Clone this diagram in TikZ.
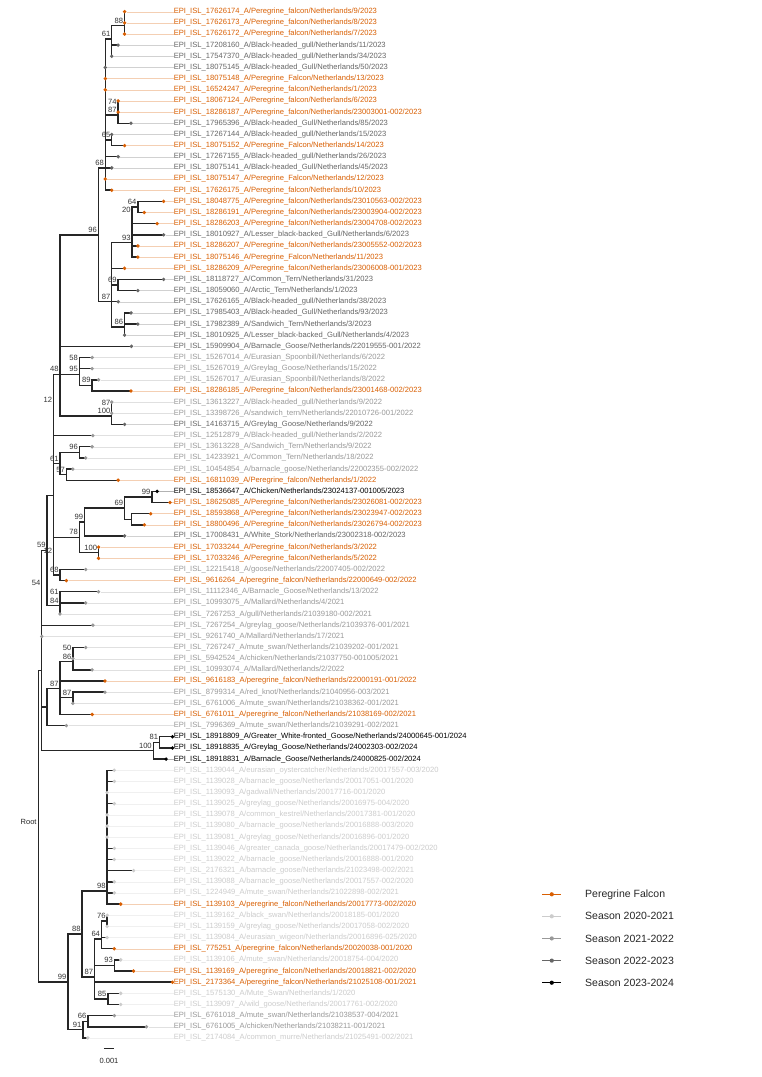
\documentclass[tikz,border=0pt]{standalone}
\usepackage{fontspec}
\setmainfont{Liberation Sans}
\pgfdeclarelayer{bg}
\pgfsetlayers{bg,main}
\definecolor{OR}{RGB}{217,95,2}
\definecolor{LT}{RGB}{204,204,204}
\definecolor{MD}{RGB}{153,153,153}
\definecolor{DK}{RGB}{102,102,102}
\definecolor{BK}{RGB}{0,0,0}
\definecolor{BR}{RGB}{38,38,38}
\newcommand\tipleaf[4]{%
  \node[tipdot, fill=#3] (l#1) at (#2,{11.7+11.155*#1}) {};%
  \node[tiplab, text=#3] (t#1) at (162,{11.7+11.155*#1}) {#4};%
  \draw[guide, draw=#3!30] (l#1) -- (t#1.west);%
}
\newcommand\inode[4]{\coordinate (#1) at (#2,#3); \node[nl] (b#1) at (#1) {#4};}
\newcommand\jnode[3]{\coordinate (#1) at (#2,#3);}
\newcommand\tbrs[2]{\foreach \ch in {#2}{\draw[branch] (#1) |- (\ch.center);}}
\begin{document}
\begin{tikzpicture}[x=1.0714pt,y=-1pt,
  tipdot/.style={circle, inner sep=0pt, minimum size=3.8pt, draw=none},
  tiplab/.style={anchor=west, inner sep=0pt, font=\fontsize{7.6pt}{9pt}\selectfont},
  guide/.style={line width=0.4pt},
  branch/.style={line width=1.4pt, draw=BR},
  nl/.style={anchor=south east, inner sep=0pt, xshift=-1.3pt, yshift=2.2pt, font=\fontsize{7.6pt}{9pt}\selectfont, text=black!80},
  legt/.style={anchor=west, inner sep=0pt, font=\fontsize{10.5pt}{12pt}\selectfont, text=black!85},
  keyline/.style={line width=0.5pt}
]
\useasboundingbox (0,0) rectangle (711.2,1077);
\begin{pgfonlayer}{bg}
\fill[white] (0,0) rectangle (711.2,1077);
\end{pgfonlayer}

% ---------- tips ----------
\tipleaf{0}{116.3}{OR}{EPI\_ISL\_17626174\_A/Peregrine\_falcon/Netherlands/9/2023}
\tipleaf{1}{116.3}{OR}{EPI\_ISL\_17626173\_A/Peregrine\_falcon/Netherlands/8/2023}
\tipleaf{2}{116.3}{OR}{EPI\_ISL\_17626172\_A/Peregrine\_falcon/Netherlands/7/2023}
\tipleaf{3}{110.3}{DK}{EPI\_ISL\_17208160\_A/Black-headed\_gull/Netherlands/11/2023}
\tipleaf{4}{104.3}{DK}{EPI\_ISL\_17547370\_A/Black-headed\_gull/Netherlands/34/2023}
\tipleaf{5}{98.3}{DK}{EPI\_ISL\_18075145\_A/Black-headed\_Gull/Netherlands/50/2023}
\tipleaf{6}{98.3}{OR}{EPI\_ISL\_18075148\_A/Peregrine\_Falcon/Netherlands/13/2023}
\tipleaf{7}{98.3}{OR}{EPI\_ISL\_16524247\_A/Peregrine\_falcon/Netherlands/1/2023}
\tipleaf{8}{110.3}{OR}{EPI\_ISL\_18067124\_A/Peregrine\_falcon/Netherlands/6/2023}
\tipleaf{9}{110.3}{OR}{EPI\_ISL\_18286187\_A/Peregrine\_falcon/Netherlands/23003001-002/2023}
\tipleaf{10}{122.3}{DK}{EPI\_ISL\_17965396\_A/Black-headed\_Gull/Netherlands/85/2023}
\tipleaf{11}{104.3}{DK}{EPI\_ISL\_17267144\_A/Black-headed\_gull/Netherlands/15/2023}
\tipleaf{12}{116.3}{OR}{EPI\_ISL\_18075152\_A/Peregrine\_Falcon/Netherlands/14/2023}
\tipleaf{13}{110.3}{DK}{EPI\_ISL\_17267155\_A/Black-headed\_gull/Netherlands/26/2023}
\tipleaf{14}{104.3}{DK}{EPI\_ISL\_18075141\_A/Black-headed\_Gull/Netherlands/45/2023}
\tipleaf{15}{98.3}{OR}{EPI\_ISL\_18075147\_A/Peregrine\_Falcon/Netherlands/12/2023}
\tipleaf{16}{104.3}{OR}{EPI\_ISL\_17626175\_A/Peregrine\_falcon/Netherlands/10/2023}
\tipleaf{17}{152.7}{OR}{EPI\_ISL\_18048775\_A/Peregrine\_falcon/Netherlands/23010563-002/2023}
\tipleaf{18}{134.7}{OR}{EPI\_ISL\_18286191\_A/Peregrine\_falcon/Netherlands/23003904-002/2023}
\tipleaf{19}{146.7}{OR}{EPI\_ISL\_18286203\_A/Peregrine\_falcon/Netherlands/23004708-002/2023}
\tipleaf{20}{152.7}{DK}{EPI\_ISL\_18010927\_A/Lesser\_black-backed\_Gull/Netherlands/6/2023}
\tipleaf{21}{128.7}{OR}{EPI\_ISL\_18286207\_A/Peregrine\_falcon/Netherlands/23005552-002/2023}
\tipleaf{22}{128.7}{OR}{EPI\_ISL\_18075146\_A/Peregrine\_Falcon/Netherlands/11/2023}
\tipleaf{23}{116.3}{OR}{EPI\_ISL\_18286209\_A/Peregrine\_falcon/Netherlands/23006008-001/2023}
\tipleaf{24}{152.7}{DK}{EPI\_ISL\_18118727\_A/Common\_Tern/Netherlands/31/2023}
\tipleaf{25}{128.7}{DK}{EPI\_ISL\_18059060\_A/Arctic\_Tern/Netherlands/1/2023}
\tipleaf{26}{110.3}{DK}{EPI\_ISL\_17626165\_A/Black-headed\_gull/Netherlands/38/2023}
\tipleaf{27}{122.3}{DK}{EPI\_ISL\_17985403\_A/Black-headed\_Gull/Netherlands/93/2023}
\tipleaf{28}{128.7}{DK}{EPI\_ISL\_17982389\_A/Sandwich\_Tern/Netherlands/3/2023}
\tipleaf{29}{116.3}{DK}{EPI\_ISL\_18010925\_A/Lesser\_black-backed\_Gull/Netherlands/4/2023}
\tipleaf{30}{122.7}{DK}{EPI\_ISL\_15909904\_A/Barnacle\_Goose/Netherlands/22019555-001/2022}
\tipleaf{31}{86}{MD}{EPI\_ISL\_15267014\_A/Eurasian\_Spoonbill/Netherlands/6/2022}
\tipleaf{32}{86}{MD}{EPI\_ISL\_15267019\_A/Greylag\_Goose/Netherlands/15/2022}
\tipleaf{33}{92}{MD}{EPI\_ISL\_15267017\_A/Eurasian\_Spoonbill/Netherlands/8/2022}
\tipleaf{34}{122.3}{OR}{EPI\_ISL\_18286185\_A/Peregrine\_falcon/Netherlands/23001468-002/2023}
\tipleaf{35}{104.3}{MD}{EPI\_ISL\_13613227\_A/Black-headed\_gull/Netherlands/9/2022}
\tipleaf{36}{104.3}{MD}{EPI\_ISL\_13398726\_A/sandwich\_tern/Netherlands/22010726-001/2022}
\tipleaf{37}{116.3}{DK}{EPI\_ISL\_14163715\_A/Greylag\_Goose/Netherlands/9/2022}
\tipleaf{38}{86.7}{MD}{EPI\_ISL\_12512879\_A/Black-headed\_gull/Netherlands/2/2022}
\tipleaf{39}{86}{MD}{EPI\_ISL\_13613228\_A/Sandwich\_Tern/Netherlands/9/2022}
\tipleaf{40}{80}{MD}{EPI\_ISL\_14233921\_A/Common\_Tern/Netherlands/18/2022}
\tipleaf{41}{68}{MD}{EPI\_ISL\_10454854\_A/barnacle\_goose/Netherlands/22002355-002/2022}
\tipleaf{42}{110.3}{OR}{EPI\_ISL\_16811039\_A/Peregrine\_falcon/Netherlands/1/2022}
\tipleaf{43}{146.7}{BK}{EPI\_ISL\_18536647\_A/Chicken/Netherlands/23024137-001005/2023}
\tipleaf{44}{158.7}{OR}{EPI\_ISL\_18625085\_A/Peregrine\_falcon/Netherlands/23026081-002/2023}
\tipleaf{45}{140.7}{OR}{EPI\_ISL\_18593868\_A/Peregrine\_falcon/Netherlands/23023947-002/2023}
\tipleaf{46}{134.7}{OR}{EPI\_ISL\_18800496\_A/Peregrine\_falcon/Netherlands/23026794-002/2023}
\tipleaf{47}{116.3}{DK}{EPI\_ISL\_17008431\_A/White\_Stork/Netherlands/23002318-002/2023}
\tipleaf{48}{92}{OR}{EPI\_ISL\_17033244\_A/Peregrine\_falcon/Netherlands/3/2022}
\tipleaf{49}{92}{OR}{EPI\_ISL\_17033246\_A/Peregrine\_falcon/Netherlands/5/2022}
\tipleaf{50}{80}{MD}{EPI\_ISL\_12215418\_A/goose/Netherlands/22007405-002/2022}
\tipleaf{51}{62}{OR}{EPI\_ISL\_9616264\_A/peregrine\_falcon/Netherlands/22000649-002/2022}
\tipleaf{52}{92}{MD}{EPI\_ISL\_11112346\_A/Barnacle\_Goose/Netherlands/13/2022}
\tipleaf{53}{80}{MD}{EPI\_ISL\_10993075\_A/Mallard/Netherlands/4/2021}
\tipleaf{54}{56}{MD}{EPI\_ISL\_7267253\_A/gull/Netherlands/21039180-002/2021}
\tipleaf{55}{86.7}{MD}{EPI\_ISL\_7267254\_A/greylag\_goose/Netherlands/21039376-001/2021}
\tipleaf{56}{39}{MD}{EPI\_ISL\_9261740\_A/Mallard/Netherlands/17/2021}
\tipleaf{57}{80}{MD}{EPI\_ISL\_7267247\_A/mute\_swan/Netherlands/21039202-001/2021}
\tipleaf{58}{68}{MD}{EPI\_ISL\_5942524\_A/chicken/Netherlands/21037750-001005/2021}
\tipleaf{59}{86}{MD}{EPI\_ISL\_10993074\_A/Mallard/Netherlands/2/2022}
\tipleaf{60}{98}{OR}{EPI\_ISL\_9616183\_A/peregrine\_falcon/Netherlands/22000191-001/2022}
\tipleaf{61}{98}{MD}{EPI\_ISL\_8799314\_A/red\_knot/Netherlands/21040956-003/2021}
\tipleaf{62}{68}{MD}{EPI\_ISL\_6761006\_A/mute\_swan/Netherlands/21038362-001/2021}
\tipleaf{63}{86}{OR}{EPI\_ISL\_6761011\_A/peregrine\_falcon/Netherlands/21038169-002/2021}
\tipleaf{64}{62}{MD}{EPI\_ISL\_7996369\_A/mute\_swan/Netherlands/21039291-002/2021}
\tipleaf{65}{161}{BK}{EPI\_ISL\_18918809\_A/Greater\_White-fronted\_Goose/Netherlands/24000645-001/2024}
\tipleaf{66}{161}{BK}{EPI\_ISL\_18918835\_A/Greylag\_Goose/Netherlands/24002303-002/2024}
\tipleaf{67}{155}{BK}{EPI\_ISL\_18918831\_A/Barnacle\_Goose/Netherlands/24000825-002/2024}
\tipleaf{68}{106.7}{LT}{EPI\_ISL\_1139044\_A/eurasian\_oystercatcher/Netherlands/20017557-003/2020}
\tipleaf{69}{106.7}{LT}{EPI\_ISL\_1139028\_A/barnacle\_goose/Netherlands/20017051-001/2020}
\tipleaf{70}{100}{LT}{EPI\_ISL\_1139093\_A/gadwall/Netherlands/20017716-001/2020}
\tipleaf{71}{106.7}{LT}{EPI\_ISL\_1139025\_A/greylag\_goose/Netherlands/20016975-004/2020}
\tipleaf{72}{100}{LT}{EPI\_ISL\_1139078\_A/common\_kestrel/Netherlands/20017381-001/2020}
\tipleaf{73}{100}{LT}{EPI\_ISL\_1139080\_A/barnacle\_goose/Netherlands/20016888-003/2020}
\tipleaf{74}{100}{LT}{EPI\_ISL\_1139081\_A/greylag\_goose/Netherlands/20016896-001/2020}
\tipleaf{75}{106.7}{LT}{EPI\_ISL\_1139046\_A/greater\_canada\_goose/Netherlands/20017479-002/2020}
\tipleaf{76}{106.7}{LT}{EPI\_ISL\_1139022\_A/barnacle\_goose/Netherlands/20016888-001/2020}
\tipleaf{77}{124.7}{LT}{EPI\_ISL\_2176321\_A/barnacle\_goose/Netherlands/21023498-002/2021}
\tipleaf{78}{106.7}{LT}{EPI\_ISL\_1139088\_A/barnacle\_goose/Netherlands/20017557-002/2020}
\tipleaf{79}{106.7}{LT}{EPI\_ISL\_1224949\_A/mute\_swan/Netherlands/21022898-002/2021}
\tipleaf{80}{112.7}{OR}{EPI\_ISL\_1139103\_A/peregrine\_falcon/Netherlands/20017773-002/2020}
\tipleaf{81}{100}{LT}{EPI\_ISL\_1139162\_A/black\_swan/Netherlands/20018185-001/2020}
\tipleaf{82}{100}{LT}{EPI\_ISL\_1139159\_A/greylag\_goose/Netherlands/20017058-002/2020}
\tipleaf{83}{100}{LT}{EPI\_ISL\_1139084\_A/eurasian\_wigeon/Netherlands/20016896-025/2020}
\tipleaf{84}{106.7}{OR}{EPI\_ISL\_775251\_A/peregrine\_falcon/Netherlands/20020038-001/2020}
\tipleaf{85}{112.7}{LT}{EPI\_ISL\_1139106\_A/mute\_swan/Netherlands/20018754-004/2020}
\tipleaf{86}{124.7}{OR}{EPI\_ISL\_1139169\_A/peregrine\_falcon/Netherlands/20018821-002/2020}
\tipleaf{87}{161}{OR}{EPI\_ISL\_2173364\_A/peregrine\_falcon/Netherlands/21025108-001/2021}
\tipleaf{88}{112.7}{LT}{EPI\_ISL\_1575130\_A/Mute\_Swan/Netherlands/1/2020}
\tipleaf{89}{112.7}{LT}{EPI\_ISL\_1139097\_A/wild\_goose/Netherlands/20017761-002/2020}
\tipleaf{90}{106.7}{MD}{EPI\_ISL\_6761018\_A/mute\_swan/Netherlands/21038537-004/2021}
\tipleaf{91}{136.7}{MD}{EPI\_ISL\_6761005\_A/chicken/Netherlands/21038211-001/2021}
\tipleaf{92}{82}{LT}{EPI\_ISL\_2174084\_A/common\_murre/Netherlands/21025491-002/2021}

% ---------- internal nodes ----------
\jnode{n012a}{116.3}{17.28}
\inode{n012}{116.3}{25.64}{88}
\inode{nA}{104.3}{39}{61}
\inode{n89}{110.3}{106.52}{74}
\inode{n8910}{110.3}{114.88}{87}
\inode{nC}{104.3}{139.98}{65}
\inode{nB}{98.3}{168}{68}
\inode{nE}{91.7}{234.85}{96}
\inode{n1718}{128.7}{206.91}{64}
\inode{nG}{123.3}{215.28}{20}
\inode{nF}{123.3}{242.7}{93}
\inode{nI}{110.3}{285.0}{69}
\jnode{nJa}{116.3}{318.46}
\inode{nJ}{116.3}{326.83}{86}
\inode{nH}{104.3}{301.7}{87}
\jnode{nK}{56}{290.6}
\inode{nM58}{74}{363.08}{58}
\inode{nN89}{86}{385.39}{89}
\inode{nM}{74}{374.24}{95}
\jnode{nK2}{56}{332.42}
\inode{nL87}{104.3}{407.7}{87}
\inode{nL}{104.3}{416.07}{100}
\inode{nY}{56}{374.25}{48}
\inode{nZ}{50}{404.92}{12}
\inode{n3940}{74}{452.32}{96}
\inode{n4142}{62}{474.63}{57}
\inode{n61a}{56}{463.48}{61}
\jnode{nZ2}{50}{434.2}
\inode{n4344}{141.7}{496.94}{99}
\jnode{n4546}{122.7}{519.25}
\inode{n69}{116.3}{508.1}{69}
\inode{n99a}{79}{522.04}{99}
\inode{n4849}{92}{552.72}{100}
\inode{n78}{74}{537.38}{78}
\inode{n5051}{56}{575.03}{68}
\inode{nR}{50}{556.2}{12}
\jnode{nS}{50}{495.2}
\inode{nV61}{56}{597.34}{61}
\inode{nV84}{56}{605.7}{84}
\inode{nX}{44}{550.45}{59}
\inode{nW54}{39}{587.84}{54}
\jnode{nW}{39}{612.11}
\inode{n5758}{68}{653.11}{50}
\inode{n5759}{68}{661.48}{86}
\jnode{nAA1}{56}{671.24}
\inode{n6162}{68}{697.73}{87}
\jnode{nAA2}{56}{706.1}
\inode{nAA}{56}{688.67}{87}
\jnode{nAB}{44}{707.15}
\inode{n6566}{149}{742.35}{81}
\inode{n100}{143}{750.72}{100}
\jnode{nT2}{39}{728.93}
\jnode{nT}{39}{670.52}
\inode{nBB}{100}{891}{98}
\inode{n8182}{100}{920.83}{76}
\jnode{nCC}{94.7}{929.2}
\inode{n64}{94.7}{938.96}{64}
\inode{n8586}{106.7}{965.45}{93}
\inode{n8889}{100.7}{998.92}{85}
\inode{n87}{88.3}{977}{87}
\inode{n88}{76.7}{934}{88}
\inode{n9091}{82}{1021.23}{66}
\inode{n91}{77.3}{1029.6}{91}
\inode{n99}{63.3}{981.8}{99}
\coordinate (root) at (36,826.16);
\node[anchor=south east, inner sep=0pt, xshift=-1.8pt, yshift=1.8pt, font=\fontsize{7.5pt}{9pt}\selectfont, text=black!85] (rootlab) at (root) {Root};

% ---------- branches ----------
\begin{pgfonlayer}{bg}
\tbrs{n012a}{l0,l1}
\tbrs{n012}{n012a,l2}
\tbrs{nA}{n012,l3,l4}
\tbrs{nB}{nA,l5,l6,l7,n8910,nC,l13,l14,l15,l16}
\tbrs{n89}{l8,l9}
\tbrs{n8910}{n89,l10}
\tbrs{nC}{l11,l12}
\tbrs{nE}{nB,nH}
\tbrs{n1718}{l17,l18}
\tbrs{nG}{n1718,l19}
\tbrs{nF}{nG,l20,l21,l22}
\tbrs{nI}{l24,l25}
\tbrs{nJa}{l27,l28}
\tbrs{nJ}{nJa,l29}
\tbrs{nH}{nF,l23,nI,l26,nJ}
\tbrs{nK}{nE,l30}
\tbrs{nM58}{l31,l32}
\tbrs{nN89}{l33,l34}
\tbrs{nM}{nM58,nN89}
\tbrs{nK2}{nK,nM}
\tbrs{nL87}{l35,l36}
\tbrs{nL}{nL87,l37}
\tbrs{nY}{nK2,nL}
\tbrs{nZ}{nY,l38}
\tbrs{n3940}{l39,l40}
\tbrs{n4142}{l41,l42}
\tbrs{n61a}{n3940,n4142}
\tbrs{nZ2}{nZ,n61a}
\tbrs{n4344}{l43,l44}
\tbrs{n4546}{l45,l46}
\tbrs{n69}{n4344,n4546}
\tbrs{n99a}{n69,l47}
\tbrs{n4849}{l48,l49}
\tbrs{n78}{n99a,n4849}
\tbrs{n5051}{l50,l51}
\tbrs{nR}{n78,n5051}
\tbrs{nS}{nZ2,nR}
\tbrs{nV61}{l52,l53}
\tbrs{nV84}{nV61,l54}
\tbrs{nX}{nS,nV84}
\tbrs{nW54}{nX,l55}
\tbrs{nW}{nW54,l56}
\tbrs{n5758}{l57,l58}
\tbrs{n5759}{n5758,l59}
\tbrs{nAA1}{n5759,l60}
\tbrs{n6162}{l61,l62}
\tbrs{nAA2}{n6162,l63}
\tbrs{nAA}{nAA1,nAA2}
\tbrs{nAB}{nAA,l64}
\tbrs{n6566}{l65,l66}
\tbrs{n100}{n6566,l67}
\tbrs{nT2}{nAB,n100}
\tbrs{nT}{nW,nT2}
\tbrs{nBB}{l68,l69,l70,l71,l72,l73,l74,l75,l76,l77,l78,l79,l80}
\tbrs{n8182}{l81,l82}
\tbrs{nCC}{n8182,l83}
\tbrs{n64}{nCC,l84}
\tbrs{n8586}{l85,l86}
\tbrs{n8889}{l88,l89}
\tbrs{n87}{n64,n8586,l87,n8889}
\tbrs{n88}{nBB,n87}
\tbrs{n9091}{l90,l91}
\tbrs{n91}{n9091,l92}
\tbrs{n99}{n88,n91}
\tbrs{root}{nT,n99}
\end{pgfonlayer}

% ---------- legend ----------
\coordinate (k0a) at (506,894.3); \coordinate (k0b) at (524,894.3);
\draw[keyline, draw=OR] (k0a) -- (k0b);
\node[tipdot, fill=OR, minimum size=4.2pt] (k0) at (515,894.3) {};
\node[legt] (g0) at (546,894.3) {Peregrine Falcon};
\coordinate (k1a) at (506,916.3); \coordinate (k1b) at (524,916.3);
\draw[keyline, draw=LT] (k1a) -- (k1b);
\node[tipdot, fill=LT, minimum size=4.2pt] (k1) at (515,916.3) {};
\node[legt] (g1) at (546,916.3) {Season 2020-2021};
\coordinate (k2a) at (506,938.4); \coordinate (k2b) at (524,938.4);
\draw[keyline, draw=MD] (k2a) -- (k2b);
\node[tipdot, fill=MD, minimum size=4.2pt] (k2) at (515,938.4) {};
\node[legt] (g2) at (546,938.4) {Season 2021-2022};
\coordinate (k3a) at (506,960.6); \coordinate (k3b) at (524,960.6);
\draw[keyline, draw=DK] (k3a) -- (k3b);
\node[tipdot, fill=DK, minimum size=4.2pt] (k3) at (515,960.6) {};
\node[legt] (g3) at (546,960.6) {Season 2022-2023};
\coordinate (k4a) at (506,982.7); \coordinate (k4b) at (524,982.7);
\draw[keyline, draw=BK] (k4a) -- (k4b);
\node[tipdot, fill=BK, minimum size=4.2pt] (k4) at (515,982.7) {};
\node[legt] (g4) at (546,982.7) {Season 2023-2024};

% ---------- scale bar ----------
\coordinate (sb1) at (97,1048.3); \coordinate (sb2) at (106.5,1048.3);
\draw[line width=1.2pt, draw=BR] (sb1) -- (sb2);
\node[inner sep=0pt, font=\fontsize{7.5pt}{9pt}\selectfont, text=black!85] (sbt) at (101.75,1061) {0.001};
\end{tikzpicture}
\end{document}
